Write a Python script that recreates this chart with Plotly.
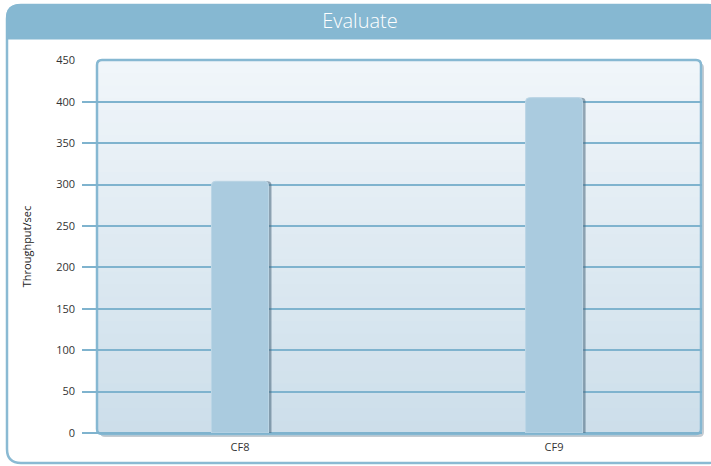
import plotly.graph_objects as go

categories = ["CF8", "CF9"]
throughput = [304, 405]
y_ticks = [0, 50, 100, 150, 200, 250, 300, 350, 400, 450]

W, H = 711, 466
PL, PR, PT, PB = 82, 702, 60, 433
L, R, T, B = PL, W - PR, PT, H - PB
PW, PH = W - L - R, H - T - B
XR = [-0.503, 1.471]

def px_x(px):
    return (px - PL) / PW

def px_y(py):
    return (PB - py) / PH

def rrect(x0, y0, x1, y1, r, top_only=False):
    rx, ry = r / PW, r / PH
    X0, X1 = px_x(x0), px_x(x1)
    Yt, Yb = px_y(y0), px_y(y1)
    if top_only:
        return (f"M{X0},{Yb} L{X0},{Yt-ry} Q{X0},{Yt} {X0+rx},{Yt} "
                f"L{X1-rx},{Yt} Q{X1},{Yt} {X1},{Yt-ry} L{X1},{Yb} Z")
    return (f"M{X0},{Yb+ry} L{X0},{Yt-ry} Q{X0},{Yt} {X0+rx},{Yt} "
            f"L{X1-rx},{Yt} Q{X1},{Yt} {X1},{Yt-ry} L{X1},{Yb+ry} "
            f"Q{X1},{Yb} {X1-rx},{Yb} L{X0+rx},{Yb} Q{X0},{Yb} {X0},{Yb+ry} Z")

def lerp(c1, c2, t):
    return "rgb(%d,%d,%d)" % tuple(round(a + (b - a) * t) for a, b in zip(c1, c2))

shapes = []
shapes.append(dict(type="path", path=rrect(7, 5, 722, 463, 14), xref="paper", yref="paper",
                   line=dict(color="#8ABAD3", width=2.5), fillcolor="white", layer="below"))
shapes.append(dict(type="path", path=rrect(6, 4, 722, 39.5, 14, top_only=True), xref="paper", yref="paper",
                   line=dict(width=0), fillcolor="#86B8D2", layer="below"))
shapes.append(dict(type="path", path=rrect(100, 63, 704, 437, 5), xref="paper", yref="paper",
                   line=dict(width=0), fillcolor="rgba(90,110,125,0.35)", layer="below"))
n = 30
top_c, bot_c = (241, 246, 250), (204, 222, 234)
for i in range(n):
    y0 = 450 * i / n
    y1 = min(450, 450 * (i + 1) / n + 3)
    shapes.append(dict(type="rect", xref="paper", yref="y", x0=px_x(98), x1=px_x(700),
                       y0=y0, y1=y1, line=dict(width=0),
                       fillcolor=lerp(bot_c, top_c, (i + 0.5) / n), layer="below"))
shapes.append(dict(type="path", path=rrect(97, 60, 701, 434, 5), xref="paper", yref="paper",
                   line=dict(color="#86B8D2", width=2.5), fillcolor="rgba(0,0,0,0)", layer="below"))

bw = 57 / PW * (XR[1] - XR[0])
shift = 3 / PW * (XR[1] - XR[0])

fig = go.Figure()
fig.add_trace(go.Bar(x=categories, y=throughput, width=bw, offset=-bw / 2 + shift,
                     marker=dict(color="rgba(70,100,122,0.55)", cornerradius=4, line=dict(width=0)),
                     hoverinfo="skip", showlegend=False))
fig.add_trace(go.Bar(x=categories, y=throughput, width=bw, offset=-bw / 2,
                     marker=dict(color="#AACBDF", cornerradius=4,
                                 line=dict(color="#BCD6E6", width=1)),
                     showlegend=False))

fig.update_layout(
    width=W, height=H, barmode="overlay",
    margin=dict(l=L, r=R, t=T, b=B, pad=0),
    paper_bgcolor="white", plot_bgcolor="rgba(0,0,0,0)",
    font=dict(family="Open Sans, Noto Sans, sans-serif", size=11, color="#333333"),
    title=dict(text="Evaluate", x=360 / W, xref="container", xanchor="center",
               y=1 - 21 / H, yref="container", yanchor="middle",
               font=dict(size=20, color="white", family="Open Sans, sans-serif", weight=300)),
    shapes=shapes,
    xaxis=dict(range=XR, showgrid=False, zeroline=False, showline=False, ticks="",
               ticklabelstandoff=6,
               tickfont=dict(size=11, color="#333333"), fixedrange=True),
    yaxis=dict(range=[0, 450.5], tickvals=y_ticks, showgrid=True, gridcolor="#7FB3CE",
               gridwidth=2, zeroline=True, zerolinecolor="#7FB3CE", zerolinewidth=2,
               showline=False, ticks="", ticklabelstandoff=6,
               tickfont=dict(size=11, color="#333333"),
               title=dict(text="Throughput/sec", font=dict(size=11, color="#222222"), standoff=22)),
)

fig.write_html("out.html", config={"displayModeBar": False},
               post_script="document.body.style.margin='0';")
